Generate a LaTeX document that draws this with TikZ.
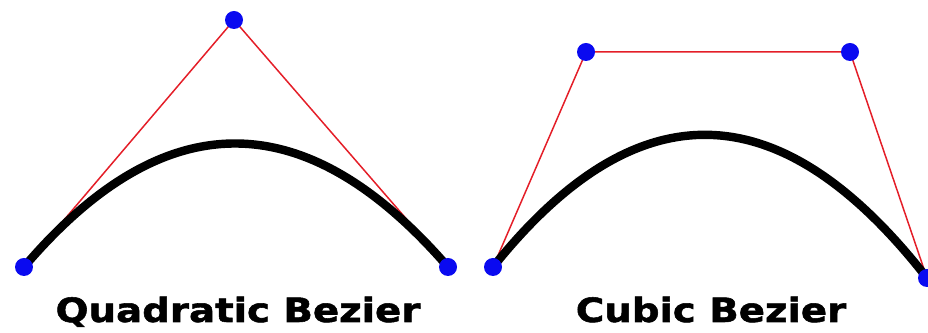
\documentclass[tikz,border=0pt]{standalone}
\usepackage{fontspec}
\usepackage{tikz}
\usetikzlibrary{calc}
\newfontfamily\captionfont[FakeStretch=1.16,FakeBold=1.6]{DejaVu Sans}
\definecolor{polyred}{RGB}{228,30,40}
\definecolor{ptblue}{RGB}{10,10,240}
\tikzset{
  poly/.style={draw=polyred, line width=0.85pt, line join=miter},
  curve/.style={draw=black, line width=4.8pt},
  pt/.style={fill=ptblue},
  caption/.style={anchor=base, inner sep=0pt, font=\captionfont\bfseries\fontsize{19}{20}\selectfont}
}
\begin{document}
\begin{tikzpicture}[x=0.02cm, y=0.02cm]
                    \useasboundingbox (0,0) rectangle (928,333);
                    % Points
                    \coordinate (q0) at (24,66);
                    \coordinate (q1) at (234,313);
                    \coordinate (q2) at (448,66);
                    \coordinate (c0) at (493,66);
                    \coordinate (c1) at (586,281);
                    \coordinate (c2) at (850,281);
                    \coordinate (c3) at (927,55);
                    \coordinate (k1) at (637,246);
                    \coordinate (k2) at (781,242);
                    % Control polygons
                    \draw[poly] (q0) -- (q1) -- (q2);
                    \draw[poly] (c0) -- (c1) -- (c2) -- (c3);
                    % Curves
                    \draw[curve] (q0) .. controls ($(q0)!2/3!(q1)$) and ($(q2)!2/3!(q1)$) .. (q2);
                    \draw[curve] (c0) .. controls (k1) and (k2) .. (c3);
                    % Dots
                    \foreach \p in {q0,q1,q2,c0,c1,c2,c3}
                        \fill[pt] (\p) circle (0.18cm);
                    % Labels
                    \node[caption] (quadlabel) at (238,11) {Quadratic Bezier};
                    \node[caption] (cubiclabel) at (711,11) {Cubic Bezier};
                \end{tikzpicture}
\end{document}
